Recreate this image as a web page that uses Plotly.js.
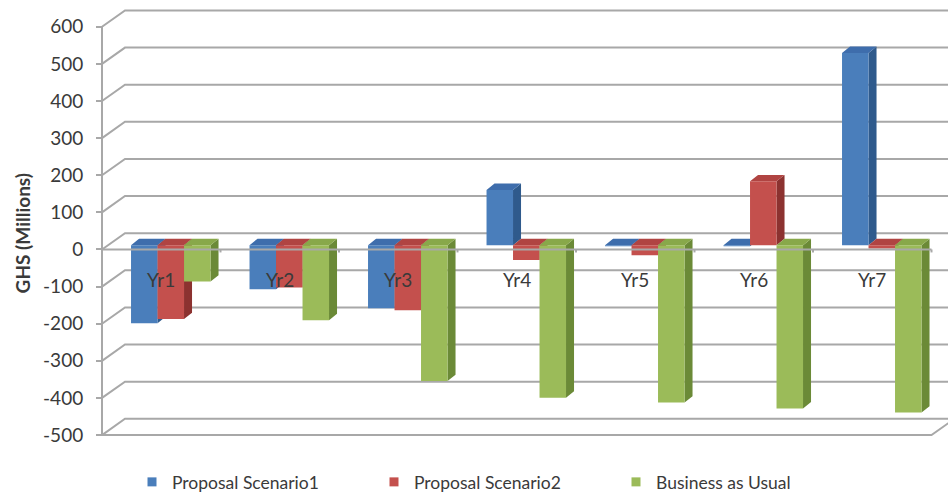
<!DOCTYPE html>
<html>
<head>
<meta charset="utf-8">
<script src="https://cdn.plot.ly/plotly-3.0.1.min.js"></script>
<style>html,body{margin:0;padding:0;background:#fff;}#chart{width:948px;height:500px;}</style>
</head>
<body>
<div id="chart"></div>
<script>
// ---- data ----
const categories = ['Yr1', 'Yr2', 'Yr3', 'Yr4', 'Yr5', 'Yr6', 'Yr7'];
const seriesNames = ['Proposal Scenario1', 'Proposal Scenario2', 'Business as Usual'];
const scenario1 = [-210, -119, -170, 149, -3, -3, 518];
const scenario2 = [-199, -114, -175, -40, -27, 172, -9];
const businessAsUsual = [-98, -202, -366, -411, -424, -440, -451];
const tickValues = [-500, -400, -300, -200, -100, 0, 100, 200, 300, 400, 500, 600];
const tickLabels = ['-500', '-400', '-300', '-200', '-100', '0', '100', '200', '300', '400', '500', '600'];

// ---- styling / geometry ----
const FONT = 'Lato, "Open Sans", sans-serif';
const TXT = '#3a3a3a';
const GRID = '#a8a8a8';
const catPx = 118.5;            // px per category
const yPx = 0.37546;            // px per value unit
const xMin = -0.5 - 2 / catPx;
const xMax = xMin + 848 / catPx;
const yMin = -513.3, yMax = 658.6;
const wallDx = 23 / catPx, wallDy = 16.5 / yPx;   // depth of back wall
const barDx = 8 / catPx, barDy = 6.5 / yPx;       // depth of each bar
const barBase = 11.5;                              // bars sit slightly behind front plane
const barW = 26.5 / catPx;
const groupLeft = -0.255;
const nCat = categories.length;
const colors = [
  {front: '#4a7ebb', top: '#3e6dac', side: '#2f5a8c'},
  {front: '#c4504d', top: '#b04442', side: '#8c3230'},
  {front: '#9bbb59', top: '#88a84a', side: '#6b8a37'}
];
const allSeries = [scenario1, scenario2, businessAsUsual];

const traces = [];

// back wall gridlines + side-wall diagonals
(function () {
  const gx = [], gy = [];
  tickValues.forEach(v => {
    gx.push(-0.5, -0.5 + wallDx, xMax + 1, null);
    gy.push(v, v + wallDy, v + wallDy, null);
  });
  // front vertical axis line
  gx.push(-0.5, -0.5, null);
  gy.push(tickValues[tickValues.length - 1], tickValues[0], null);
  // floor front edge and right diagonal
  gx.push(-0.5, nCat - 0.5, nCat - 0.5 + wallDx, null);
  gy.push(tickValues[0], tickValues[0], tickValues[0] + wallDy, null);
  traces.push({x: gx, y: gy, type: 'scatter', mode: 'lines',
    line: {color: GRID, width: 2}, showlegend: false, hoverinfo: 'skip'});
})();

// 3D bars built from the values
allSeries.forEach((vals, s) => {
  const side = {x: [], y: []}, top = {x: [], y: []}, front = {x: [], y: []};
  vals.forEach((v, i) => {
    const xl = i + groupLeft + s * barW, xr = xl + barW;
    const yT = barBase + Math.max(v, 0), yB = barBase + Math.min(v, 0);
    side.x.push(xr, xr, xr + barDx, xr + barDx, null);
    side.y.push(yB, yT, yT + barDy, yB + barDy, null);
    top.x.push(xl, xr, xr + barDx, xl + barDx, null);
    top.y.push(yT, yT, yT + barDy, yT + barDy, null);
    front.x.push(xl, xr, xr, xl, null);
    front.y.push(yB, yB, yT, yT, null);
  });
  [[side, colors[s].side], [top, colors[s].top], [front, colors[s].front]].forEach(([p, c]) => {
    traces.push({x: p.x, y: p.y, type: 'scatter', mode: 'lines', fill: 'toself',
      fillcolor: c, line: {width: 0, color: c}, showlegend: false, hoverinfo: 'skip'});
  });
});

// front category axis at zero with tick marks
(function () {
  const zx = [-0.5, nCat - 0.5, null], zy = [0, 0, null];
  for (let i = 0; i <= nCat; i++) {
    zx.push(i - 0.5, i - 0.5, null);
    zy.push(0, -8, null);
  }
  traces.push({x: zx, y: zy, type: 'scatter', mode: 'lines',
    line: {color: GRID, width: 2}, showlegend: false, hoverinfo: 'skip'});
})();

// legend entries
seriesNames.forEach((n, s) => {
  traces.push({x: [null], y: [null], type: 'scatter', mode: 'markers', name: n,
    marker: {symbol: 'square', size: 9, color: colors[s].front}, hoverinfo: 'skip'});
});

const annotations = categories.map((c, i) => ({
  x: i, y: -82, xref: 'x', yref: 'y', text: c, showarrow: false,
  font: {family: FONT, size: 19, color: TXT}, xanchor: 'center', yanchor: 'middle'
}));
annotations.push({
  x: (22 - 100) / 848, y: (445 - 236) / 440, xref: 'paper', yref: 'paper',
  text: '<b>GHS (Millions)</b>', textangle: -90, showarrow: false,
  font: {family: FONT, size: 19, color: TXT}, xanchor: 'center', yanchor: 'middle'
});

const layout = {
  width: 948, height: 500,
  margin: {l: 100, r: 0, t: 5, b: 55},
  paper_bgcolor: '#ffffff', plot_bgcolor: 'rgba(0,0,0,0)',
  hovermode: false,
  showlegend: true,
  legend: {orientation: 'h', x: (495 - 100) / 848, xanchor: 'center', y: -43 / 440, yanchor: 'middle',
    font: {family: FONT, size: 17.5, color: TXT}, entrywidth: 197, entrywidthmode: 'pixels',
    itemwidth: 30, traceorder: 'normal'},
  xaxis: {range: [xMin, xMax], showgrid: false, zeroline: false, showline: false,
    showticklabels: false, ticks: '', fixedrange: true},
  yaxis: {range: [yMin, yMax], tickvals: tickValues, ticktext: tickLabels,
    showgrid: false, zeroline: false, showline: false,
    anchor: 'free', position: 2 / 848,
    ticks: 'outside', ticklen: 6, tickwidth: 2, tickcolor: GRID, ticklabelstandoff: 9,
    tickfont: {family: FONT, size: 19, color: TXT}, fixedrange: true},
  annotations: annotations
};

Plotly.newPlot('chart', traces, layout, {displayModeBar: false, staticPlot: true});
</script>
</body>
</html>
